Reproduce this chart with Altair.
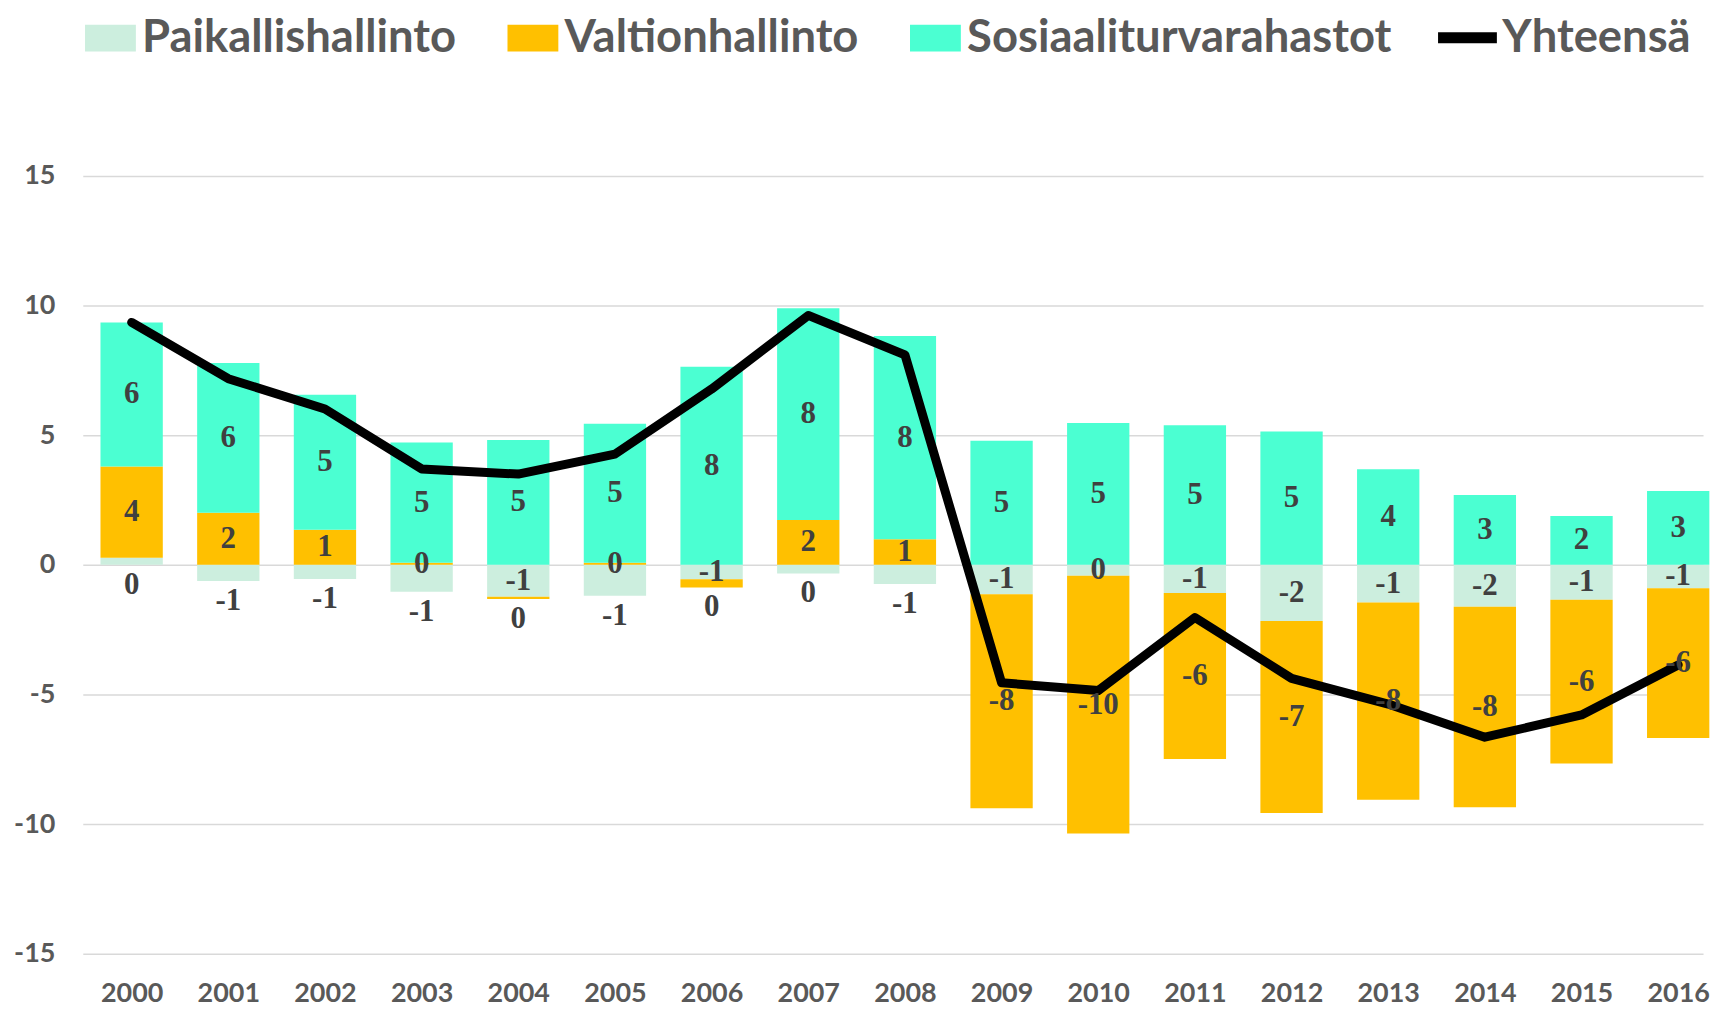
import math
import altair as alt
import pandas as pd

# ---- data ----
years = list(range(2000, 2017))
paikallis = [0.27, -0.62, -0.55, -1.04, -1.23, -1.19, -0.56, -0.33, -0.74,
             -1.13, -0.42, -1.09, -2.17, -1.45, -1.62, -1.35, -0.90]
valtion = [3.52, 2.01, 1.35, 0.08, -0.09, 0.08, -0.31, 1.73, 0.99,
           -8.26, -9.94, -6.40, -7.40, -7.61, -7.73, -6.31, -5.78]
sosiaali = [5.56, 5.78, 5.21, 4.64, 4.82, 5.36, 7.64, 8.17, 7.84,
            4.79, 5.47, 5.38, 5.14, 3.69, 2.69, 1.88, 2.85]
yhteensa = [9.35, 7.18, 6.01, 3.70, 3.50, 4.27, 6.78, 9.62, 8.10,
            -4.55, -4.85, -2.03, -4.38, -5.37, -6.65, -5.79, -3.86]
series_names = ["Paikallishallinto", "Valtionhallinto", "Sosiaaliturvarahastot"]
series_colors = ["#CCEEDE", "#FFC000", "#4BFFD2"]
line_name = "Yhteensä"
y_ticks = [-15, -10, -5, 0, 5, 10, 15]


def lab(v):
    r = math.floor(abs(v) + 0.5)
    return ("-" if (v < 0 and r != 0) else "") + str(r)


rows = []
for i, yr in enumerate(years):
    pos, neg = 0.0, 0.0
    segs = []
    for k, (name, vals) in enumerate(zip(series_names, [paikallis, valtion, sosiaali])):
        v = vals[i]
        if v >= 0:
            y0, y1 = pos, pos + v
            pos = y1
        else:
            y0, y1 = neg, neg + v
            neg = y1
        segs.append(dict(year=yr, series=name, idx=k, value=v, label=lab(v),
                         mid=(y0 + y1) / 2, low=min(y0, y1)))
    lowest = min(segs, key=lambda s: s["low"])
    for s in segs:
        s["outside"] = bool(s is lowest and abs(s["value"]) < 1.5)
        s["bottom"] = neg
        rows.append(s)
bars_df = pd.DataFrame(rows)
line_df = pd.DataFrame({"year": years, "total": yhteensa, "name": line_name})

x_scale = alt.Scale(domain=[1999.4945, 2016.257], nice=False, zero=False, padding=0)
y_scale = alt.Scale(domain=[-15, 15], nice=False, padding=0)

x_axis = alt.Axis(values=years, format="d", title=None, grid=False, domain=False,
                  ticks=False, tickSize=0, labelPadding=26.5, labelFont="Lato",
                  labelFontWeight="bold", labelFontSize=27, labelColor="#595959",
                  labelFlush=False, labelOverlap=False)
y_axis = alt.Axis(values=y_ticks, title=None, grid=True, gridColor="#D9D9D9",
                  gridWidth=1.5, domain=False, ticks=False, tickSize=0,
                  labelPadding=28, labelFont="Lato", labelFontWeight="bold",
                  labelFontSize=27, labelColor="#595959",
                  labelExpr="datum.value < 0 ? '-' + format(-datum.value, 'd') : format(datum.value, 'd')")

X = alt.X("year:Q", scale=x_scale, axis=x_axis)

bars = alt.Chart(bars_df).mark_bar(size=62.5).encode(
    x=X,
    y=alt.Y("value:Q", stack="zero", scale=y_scale, axis=y_axis),
    order=alt.Order("idx:Q"),
    color=alt.Color("series:N",
                    scale=alt.Scale(domain=series_names, range=series_colors),
                    legend=alt.Legend(title=None, orient="none", direction="horizontal",
                                      legendX=5.0, legendY=-161.4, padding=0,
                                      symbolType="M-1.457,-0.763L1.457,-0.763L1.457,0.763L-1.457,0.763Z",
                                      symbolSize=1225, symbolStrokeWidth=0,
                                      labelOffset=9, columnPadding=50.7,
                                      labelFont="Lato", labelFontWeight="bold",
                                      labelFontSize=45.5, labelColor="#595959",
                                      labelLimit=1000)),
)

line = alt.Chart(line_df).mark_line(strokeWidth=9, strokeCap="round", strokeJoin="round").encode(
    x=X,
    y=alt.Y("total:Q", scale=y_scale, axis=y_axis),
    stroke=alt.Stroke("name:N", scale=alt.Scale(domain=[line_name], range=["#000000"]),
                      legend=alt.Legend(title=None, orient="none", direction="horizontal",
                                        legendX=1353.75, legendY=-173.65, padding=0,
                                        symbolType="M-1,0L1,0", symbolSize=3481,
                                        symbolStrokeWidth=11, labelOffset=0,
                                        labelFont="Lato", labelFontWeight="bold",
                                        labelFontSize=45.5, labelColor="#595959",
                                        labelLimit=1000)),
)

text_in = alt.Chart(bars_df).transform_filter("!datum.outside").mark_text(
    font="Liberation Serif", fontWeight="bold", fontSize=31, color="#404040",
    baseline="middle", align="center"
).encode(
    x=X,
    y=alt.Y("mid:Q", scale=y_scale, axis=y_axis),
    text="label:N",
)

text_out = alt.Chart(bars_df).transform_filter("datum.outside").mark_text(
    font="Liberation Serif", fontWeight="bold", fontSize=31, color="#404040",
    baseline="top", align="center", dy=5
).encode(
    x=X,
    y=alt.Y("bottom:Q", scale=y_scale, axis=y_axis),
    text="label:N",
)

chart = alt.layer(bars, line, text_in, text_out).resolve_scale(
    color="independent", stroke="independent"
).properties(
    width=1625, height=780,
    autosize=alt.AutoSizeParams(type="none"),
    padding={"left": 75, "top": 167, "right": 8, "bottom": 54},
    background="white",
).configure_view(stroke=None)

chart.save("out.html", embed_options={"renderer": "svg", "actions": False})
